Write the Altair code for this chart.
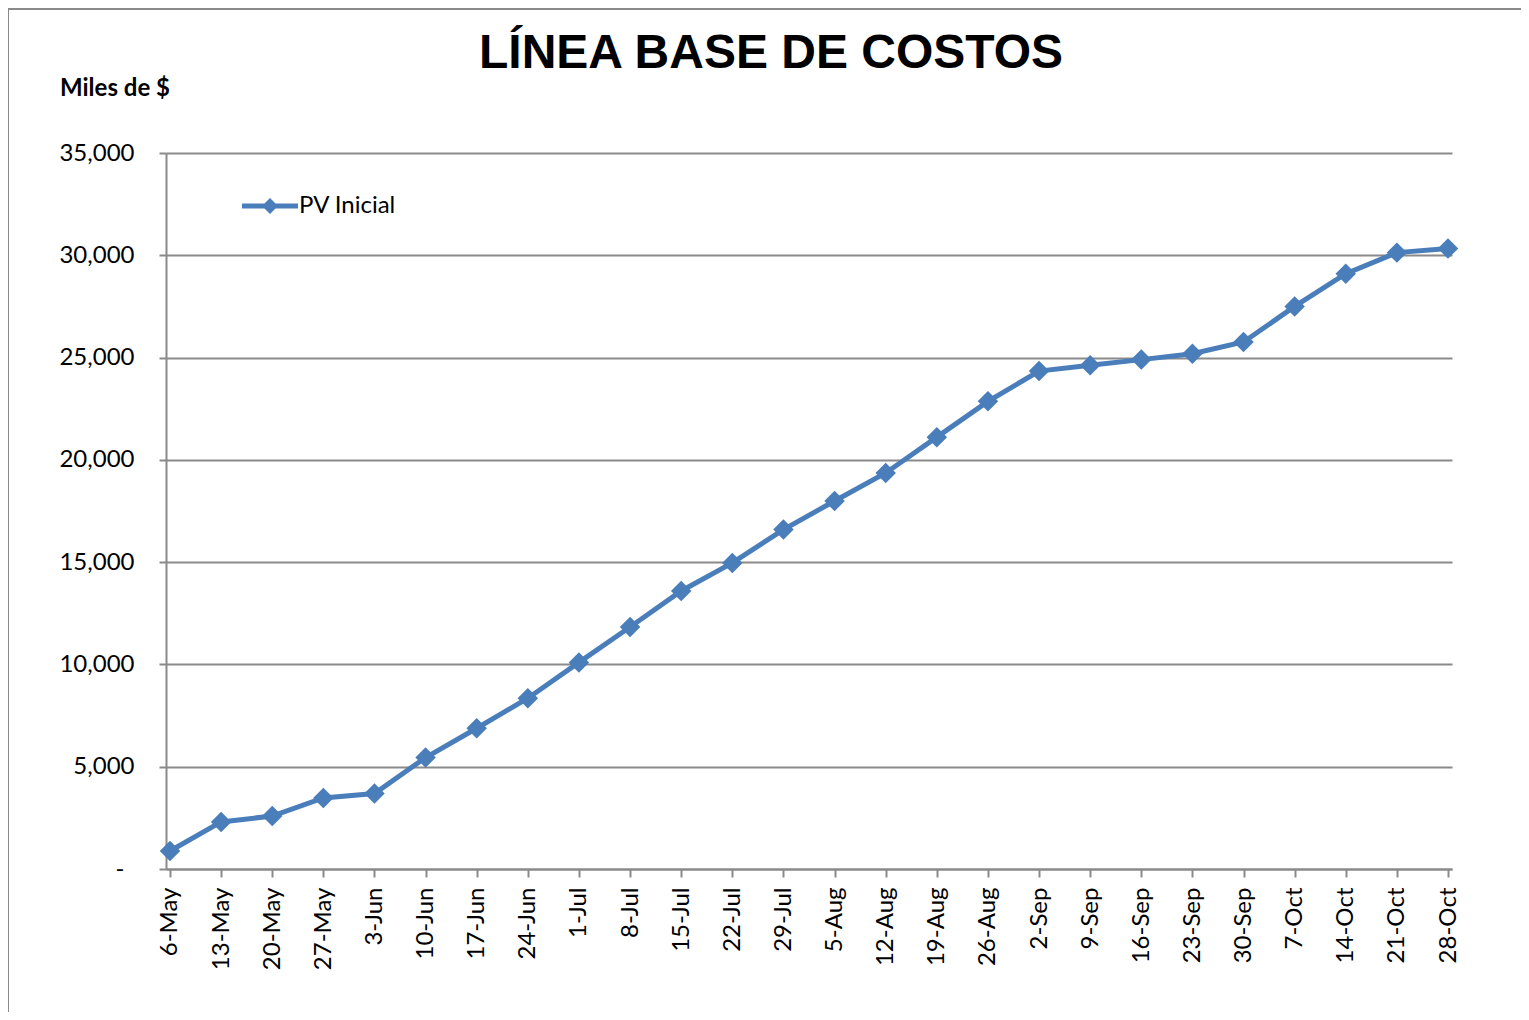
import altair as alt
import pandas as pd

fechas = ["6-May", "13-May", "20-May", "27-May", "3-Jun", "10-Jun", "17-Jun", "24-Jun",
          "1-Jul", "8-Jul", "15-Jul", "22-Jul", "29-Jul", "5-Aug", "12-Aug", "19-Aug",
          "26-Aug", "2-Sep", "9-Sep", "16-Sep", "23-Sep", "30-Sep", "7-Oct", "14-Oct",
          "21-Oct", "28-Oct"]
pv_inicial = [880, 2300, 2590, 3470, 3690, 5450, 6880, 8350,
              10100, 11830, 13590, 14960, 16590, 17990, 19360, 21110,
              22860, 24340, 24620, 24900, 25190, 25760, 27500, 29100,
              30130, 30330]
y_ticks = [0, 5000, 10000, 15000, 20000, 25000, 30000, 35000]
serie = "PV Inicial"
titulo = "LÍNEA BASE DE COSTOS"
titulo_y = "Miles de $"

AZUL = "#4a7ebb"
GRIS = "#8a8a8a"
FONT = "Lato"

df = pd.DataFrame({"fecha": fechas, "valor": pv_inicial, "serie": [serie] * len(fechas)})

x_enc = alt.X(
    "fecha:N", sort=fechas,
    scale=alt.Scale(type="point", padding=0.078),
    axis=alt.Axis(title=None, labelAngle=270, labelAlign="right", labelBaseline="middle",
                  labelPadding=10, tickSize=8, tickWidth=2, tickColor=GRIS,
                  domainColor=GRIS, domainWidth=2, labelFont=FONT, labelFontSize=24,
                  labelColor="black", grid=False),
)
y_enc = alt.Y(
    "valor:Q",
    scale=alt.Scale(domain=[0, 35000], nice=False),
    axis=alt.Axis(title=None, values=y_ticks,
                  labelExpr="datum.value == 0 ? '-' : format(datum.value, ',')",
                  labelPadding={"condition": {"test": "datum.value == 0", "value": 35},
                                "value": 25},
                  grid=True, gridColor=GRIS, gridWidth=2, tickSize=7, tickWidth=2,
                  tickColor=GRIS, domainColor=GRIS, domainWidth=2,
                  labelFont=FONT, labelFontSize=24, labelColor="black"),
)

base = alt.Chart(df)

linea = base.mark_line(color=AZUL, strokeWidth=5).encode(x=x_enc, y=y_enc)

simbolo = ("M-3.5,-0.3 L3.5,-0.3 L3.5,0.3 L-3.5,0.3 Z "
           "M0,-1 L1,0 L0,1 L-1,0 Z")

puntos = base.mark_point(shape="diamond", filled=True, size=420, opacity=1).encode(
    x=x_enc, y=y_enc,
    color=alt.Color("serie:N", scale=alt.Scale(range=[AZUL]),
                    legend=alt.Legend(title=None, orient="none", legendX=92, legendY=41,
                                      symbolType=simbolo, symbolSize=256,
                                      symbolStrokeWidth=0, symbolFillColor=AZUL,
                                      labelFont=FONT, labelFontSize=24, labelColor="black",
                                      labelOffset=17, padding=0)),
)

uno = pd.DataFrame({"m": [1]})
marco_izq = alt.Chart(uno).mark_rule(stroke=GRIS, strokeWidth=2).encode(
    x=alt.value(-158), y=alt.value(-145), y2=alt.value(900))
marco_sup = alt.Chart(uno).mark_rule(stroke=GRIS, strokeWidth=2).encode(
    x=alt.value(-158), x2=alt.value(1400), y=alt.value(-144))

titulo_txt = alt.Chart(pd.DataFrame({"t": [titulo]})).mark_text(
    align="left", baseline="alphabetic", font="Liberation Sans", fontSize=48,
    fontWeight="bold", color="black"
).encode(text="t:N", x=alt.value(313), y=alt.value(-85))

ytitulo_txt = alt.Chart(pd.DataFrame({"t": [titulo_y]})).mark_text(
    align="left", baseline="alphabetic", font=FONT, fontSize=24,
    fontWeight="bold", color="black"
).encode(text="t:N", x=alt.value(-106), y=alt.value(-57))

chart = alt.layer(marco_izq, marco_sup, linea, puntos, titulo_txt, ytitulo_txt).properties(
    width=1286, height=716,
    autosize=alt.AutoSizeParams(type="none"),
    padding={"left": 158, "top": 145, "right": 69, "bottom": 143},
).configure_view(stroke=None)

chart.save("out.html", embed_options={"renderer": "svg", "actions": False})
